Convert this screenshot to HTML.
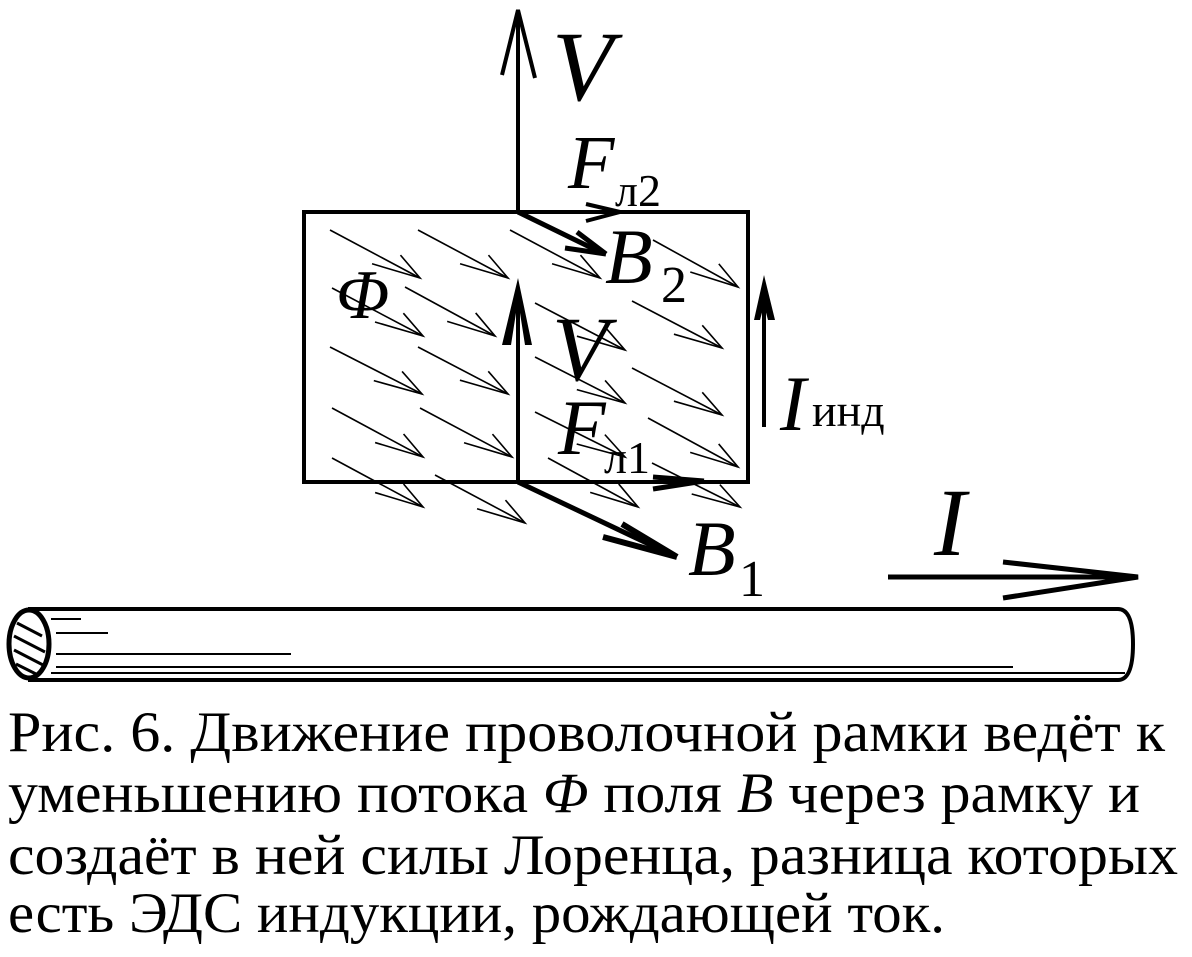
<!DOCTYPE html>
<html><head><meta charset="utf-8"><style>
html,body{margin:0;padding:0;background:#fff;}
svg{display:block;}
text{font-family:"Liberation Serif",serif;fill:#000;}
</style></head><body>
<svg width="1192" height="957" viewBox="0 0 1192 957" xmlns="http://www.w3.org/2000/svg">
<defs>
<marker id="op" markerWidth="60" markerHeight="30" refX="52" refY="15" orient="auto" markerUnits="userSpaceOnUse" viewBox="0 0 60 30">
<path d="M3,25 L52,15 L24,4" stroke="#000" stroke-width="1.6" fill="none"/>
</marker>
</defs>
<g stroke="#000" stroke-width="1.6" fill="none" marker-end="url(#op)">
<line x1="330" y1="230" x2="420" y2="278"/>
<line x1="418" y1="230" x2="508" y2="278"/>
<line x1="510" y1="230" x2="600" y2="278"/>
<line x1="653" y1="240" x2="738" y2="287"/>
<line x1="332" y1="288" x2="423" y2="336"/>
<line x1="405" y1="287" x2="495" y2="336"/>
<line x1="535" y1="303" x2="625" y2="350"/>
<line x1="632" y1="301" x2="722" y2="348"/>
<line x1="330" y1="347" x2="422" y2="394"/>
<line x1="418" y1="347" x2="508" y2="394"/>
<line x1="535" y1="357" x2="625" y2="403"/>
<line x1="632" y1="368" x2="722" y2="415"/>
<line x1="332" y1="408" x2="423" y2="457"/>
<line x1="420" y1="408" x2="512" y2="457"/>
<line x1="535" y1="412" x2="625" y2="457"/>
<line x1="648" y1="418" x2="738" y2="467"/>
<line x1="332" y1="458" x2="423" y2="507"/>
<line x1="435" y1="475" x2="525" y2="523"/>
<line x1="548" y1="458" x2="638" y2="507"/>
<line x1="652" y1="463" x2="740" y2="507"/>
</g>
<rect x="304" y="212" width="444" height="270" fill="none" stroke="#000" stroke-width="4"/>
<line x1="518" y1="482" x2="518" y2="290" stroke="#000" stroke-width="4"/>
<path d="M518,278 L532,345 L525,345 L518,300 L511,345 L502,345 Z" fill="#000"/>
<line x1="518" y1="212" x2="518" y2="14" stroke="#000" stroke-width="4"/>
<path d="M502,75 L518,10 L535,78" stroke="#000" stroke-width="4" fill="none"/>
<line x1="518" y1="212" x2="600" y2="252" stroke="#000" stroke-width="5"/>
<path d="M606,254 L577,232 M606,254 L565,248" stroke="#000" stroke-width="5"/>
<line x1="518" y1="212" x2="615" y2="212" stroke="#000" stroke-width="3"/>
<path d="M620,212 L586,204 M620,212 L586,221" stroke="#000" stroke-width="4"/>
<line x1="518" y1="482" x2="700" y2="482" stroke="#000" stroke-width="3"/>
<path d="M704,481 L653,477 M704,481 L653,489" stroke="#000" stroke-width="5"/>
<line x1="518" y1="482" x2="672" y2="555" stroke="#000" stroke-width="5"/>
<path d="M677,557 L622,524 M677,557 L603,537" stroke="#000" stroke-width="6"/>
<line x1="764" y1="427" x2="764" y2="300" stroke="#000" stroke-width="4"/>
<path d="M764,275 L775,320 L768,320 L764,305 L760,320 L754,320 Z" fill="#000"/>
<line x1="888" y1="577" x2="1130" y2="577" stroke="#000" stroke-width="5"/>
<path d="M1003,562 L1138,577 L1003,598" stroke="#000" stroke-width="5" fill="none"/>
<path d="M28,609 L1118,609 Q1133,609 1133,644 Q1133,680 1118,680 L28,680" stroke="#000" stroke-width="4" fill="none"/>
<ellipse cx="29" cy="644" rx="20" ry="34" stroke="#000" stroke-width="5" fill="#fff"/>
<g stroke="#000" stroke-width="3">
<line x1="17" y1="623" x2="42" y2="636"/>
<line x1="14" y1="636" x2="45" y2="652"/>
<line x1="14" y1="650" x2="45" y2="666"/>
<line x1="16" y1="664" x2="38" y2="675"/>
</g>
<g stroke="#000" stroke-width="2">
<line x1="51" y1="619" x2="81" y2="619"/>
<line x1="56" y1="633" x2="108" y2="633"/>
<line x1="56" y1="654" x2="291" y2="654"/>
<line x1="56" y1="667" x2="1013" y2="667"/>
<line x1="51" y1="673" x2="1125" y2="673"/>
</g>
<g font-style="italic">
<text x="552" y="100" font-size="100">V</text>
<text x="568" y="188" font-size="76">F</text>
<text x="605" y="283" font-size="78">B</text>
<text x="336" y="318" font-size="70">Φ</text>
<text x="552" y="380" font-size="92">V</text>
<text x="558" y="454" font-size="78">F</text>
<text x="780" y="430" font-size="78">I</text>
<text x="688" y="575" font-size="78">B</text>
<text x="934" y="555" font-size="96">I</text>
</g>
<text x="615" y="206" font-size="46">л2</text>
<text x="661" y="302" font-size="52">2</text>
<text x="604" y="473" font-size="46">л1</text>
<text x="812" y="426" font-size="46">инд</text>
<text x="739" y="596" font-size="52">1</text>
<g font-size="57">
<text x="8" y="751" textLength="1157" lengthAdjust="spacingAndGlyphs">Рис. 6. Движение проволочной рамки ведёт к</text>
<text x="8" y="812" textLength="1132" lengthAdjust="spacingAndGlyphs">уменьшению потока <tspan font-style="italic">Φ</tspan> поля <tspan font-style="italic">B</tspan> через рамку и</text>
<text x="8" y="874" textLength="1170" lengthAdjust="spacingAndGlyphs">создаёт в ней силы Лоренца, разница которых</text>
<text x="8" y="932" textLength="937" lengthAdjust="spacingAndGlyphs">есть ЭДС индукции, рождающей ток.</text>
</g>
</svg>
</body></html>
